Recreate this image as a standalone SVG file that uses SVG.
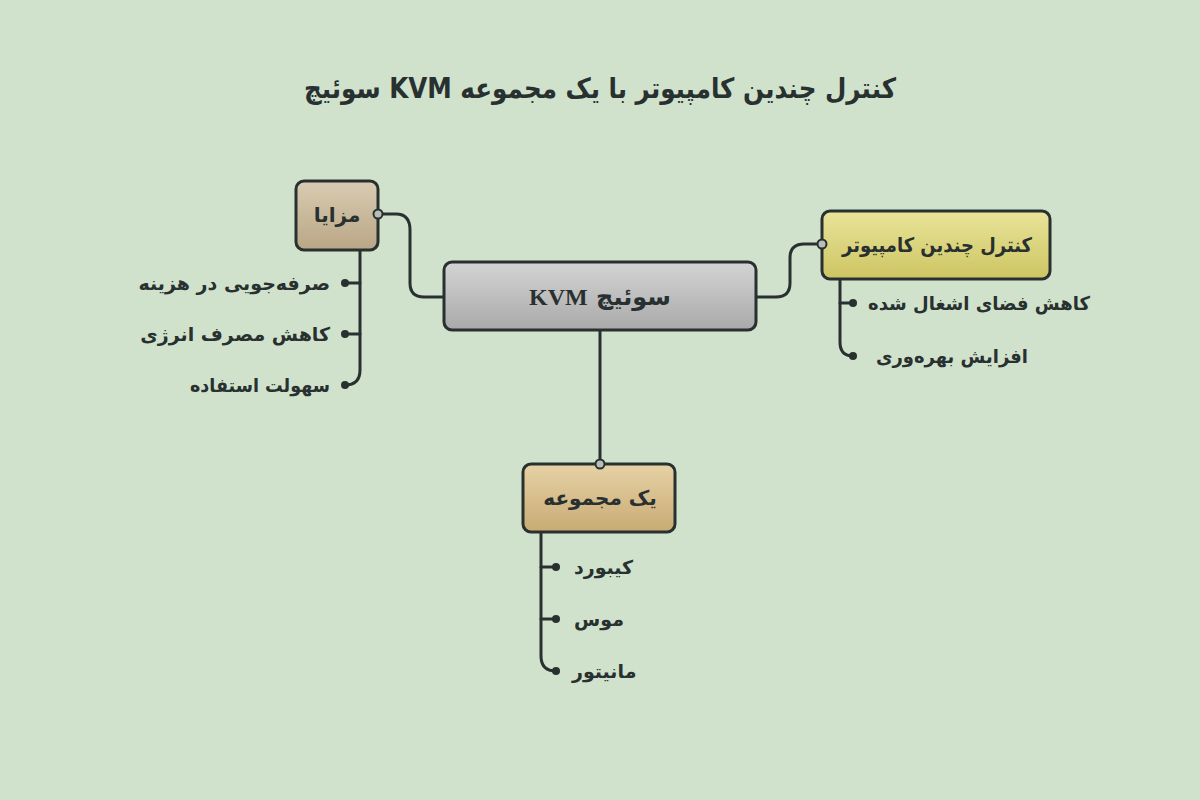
<svg xmlns="http://www.w3.org/2000/svg" width="1200" height="800" viewBox="0 0 1200 800">
<defs>
<linearGradient id="gGray" x1="0" y1="0" x2="0" y2="1"><stop offset="0" stop-color="#d4d4d4"/><stop offset="1" stop-color="#a9a9a9"/></linearGradient>
<linearGradient id="gTan" x1="0" y1="0" x2="0" y2="1"><stop offset="0" stop-color="#d9ccb2"/><stop offset="1" stop-color="#b9a685"/></linearGradient>
<linearGradient id="gYel" x1="0" y1="0" x2="0" y2="1"><stop offset="0" stop-color="#e9e49a"/><stop offset="1" stop-color="#cdc562"/></linearGradient>
<linearGradient id="gOr" x1="0" y1="0" x2="0" y2="1"><stop offset="0" stop-color="#e6d2a6"/><stop offset="1" stop-color="#c9aa74"/></linearGradient>
<style>
.box{stroke:#283030;stroke-width:3}
.ln{fill:none;stroke:#283030;stroke-width:3;stroke-linecap:round}
.dot{fill:#283030}
.ring{fill:#b9bfb6;stroke:#283030;stroke-width:2}
.t{font-family:"DejaVu Sans","Noto Sans",sans-serif;font-weight:bold;fill:#283030;direction:rtl}
.node{font-size:20px}
.item{font-size:19px}
</style>
</defs>
<rect width="1200" height="800" fill="#d0e2cc"/>
<text class="t" x="600" y="98" font-size="28" text-anchor="middle" direction="rtl" textLength="592" lengthAdjust="spacingAndGlyphs">کنترل چندین کامپیوتر با یک مجموعه KVM سوئیچ</text>

<g id="connectors">
<path class="ln" d="M378 214 H396 Q410 214 410 230 V283 Q410 297 424 297 H444"/>
<path class="ln" d="M756 297 H776 Q790 297 790 283 V258 Q790 244 804 244 H822"/>
<path class="ln" d="M600 330 V464"/>
<path class="ln" d="M360 250 V370 Q360 385 345 385"/>
<path class="ln" d="M360 283 H345 M360 334 H345"/>
<path class="ln" d="M840 279 V342 Q840 356 853 356"/>
<path class="ln" d="M840 303 H853"/>
<path class="ln" d="M541 532 V656 Q541 671 556 671"/>
<path class="ln" d="M541 567 H556 M541 619 H556"/>
<circle class="dot" cx="345" cy="283" r="4"/>
<circle class="dot" cx="345" cy="334" r="4"/>
<circle class="dot" cx="345" cy="385" r="4"/>
<circle class="dot" cx="853" cy="303" r="4"/>
<circle class="dot" cx="853" cy="356" r="4"/>
<circle class="dot" cx="556" cy="567" r="4"/>
<circle class="dot" cx="556" cy="619" r="4"/>
<circle class="dot" cx="556" cy="671" r="4"/>
</g>

<g id="node-center">
<rect class="box" x="444" y="262" width="312" height="68" rx="8" fill="url(#gGray)"/>
<text class="t" x="600" y="305" font-size="24" text-anchor="middle">سوئیچ <tspan font-family="Liberation Serif,serif">KVM</tspan></text>
</g>

<g id="node-mazaya">
<rect class="box" x="296" y="181" width="82" height="69" rx="8" fill="url(#gTan)"/>
<text class="t node" x="337" y="222" text-anchor="middle">مزایا</text>
<circle class="ring" cx="378" cy="214" r="4.5"/>
</g>
<g id="item-m1"><text class="t item" x="330" y="290" text-anchor="start">صرفه‌جویی در هزینه</text></g>
<g id="item-m2"><text class="t item" x="330" y="341" text-anchor="start">کاهش مصرف انرژی</text></g>
<g id="item-m3"><text class="t item" x="330" y="392" text-anchor="start" textLength="140" lengthAdjust="spacingAndGlyphs">سهولت استفاده</text></g>

<g id="node-control">
<rect class="box" x="822" y="211" width="228" height="68" rx="8" fill="url(#gYel)"/>
<text class="t node" x="937" y="252" text-anchor="middle" textLength="190" lengthAdjust="spacingAndGlyphs">کنترل چندین کامپیوتر</text>
<circle class="ring" cx="822" cy="244" r="4.5"/>
</g>
<g id="item-c1"><text class="t item" x="868" y="310" text-anchor="end" textLength="222" lengthAdjust="spacingAndGlyphs">کاهش فضای اشغال شده</text></g>
<g id="item-c2"><text class="t item" x="876" y="363" text-anchor="end" textLength="152" lengthAdjust="spacingAndGlyphs">افزایش بهره‌وری</text></g>

<g id="node-set">
<rect class="box" x="523" y="464" width="152" height="68" rx="8" fill="url(#gOr)"/>
<text class="t node" x="600" y="505" text-anchor="middle">یک مجموعه</text>
<circle class="ring" cx="600" cy="464" r="4.5"/>
</g>
<g id="item-s1"><text class="t item" x="574" y="574" text-anchor="end">کیبورد</text></g>
<g id="item-s2"><text class="t item" x="574" y="626" text-anchor="end">موس</text></g>
<g id="item-s3"><text class="t item" x="572" y="678" text-anchor="end">مانیتور</text></g>
</svg>
